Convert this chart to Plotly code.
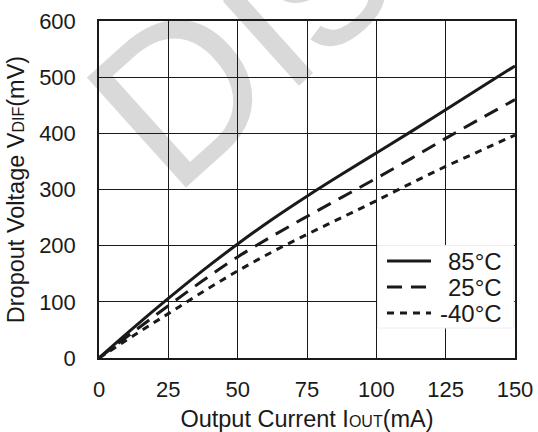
import plotly.graph_objects as go

# Dropout voltage vs. output current at three junction temperatures
current_ma = [0, 12.5, 25, 37.5, 50, 62.5, 75, 87.5, 100, 112.5, 125, 137.5, 150]
vdif_85c = [0, 54, 106, 156, 203, 247, 288, 327, 365, 403, 442, 481, 520]
vdif_25c = [0, 47, 93, 138, 180, 217, 252, 286, 320, 355, 391, 426, 460]
vdif_m40c = [0, 40, 79, 118, 155, 189, 220, 250, 280, 311, 341, 369, 397]

series_names = ["85°C", "25°C", "-40°C"]
series_dash = ["solid", "15px,9px", "7px,6px"]
series_values = [vdif_85c, vdif_25c, vdif_m40c]

x_ticks = [0, 25, 50, 75, 100, 125, 150]
y_ticks = [0, 100, 200, 300, 400, 500, 600]

FONT = "Arial, Liberation Sans, sans-serif"
INK = "#1a1a1a"

fig = go.Figure()
for name, dash, vals in zip(series_names, series_dash, series_values):
    fig.add_trace(go.Scatter(
        x=current_ma, y=vals, mode="lines", name=name,
        line=dict(color=INK, width=3, dash=dash, shape="spline", smoothing=1.0),
        showlegend=False,
    ))

# Geometry of the plotting area (pixels) used for the hand-built legend
W, H = 538, 432
L, R, T, B = 99, 23, 21, 74
pw, ph = W - L - R, H - T - B


def px(xp):
    return (xp - L) / pw


def py(yp):
    return (H - B - yp) / ph


shapes = []
annotations = []

# Faint "Dis" stamp behind the grid
shapes.append(dict(
    type="rect", xref="paper", yref="paper", layer="below",
    x0=px(224), x1=px(226), y0=py(26), y1=py(24),
    line=dict(width=0), fillcolor="rgba(0,0,0,0)",
    label=dict(text="Dis", textangle=-42, textposition="middle center",
               font=dict(family=FONT, size=215, color="#d9d9d9")),
))

# Legend panel
shapes.append(dict(
    type="rect", xref="paper", yref="paper", layer="above",
    x0=px(377.5), x1=px(513.8), y0=py(328), y1=py(245.5),
    line=dict(color="#eeeeee", width=1), fillcolor="white",
))
legend_rows = [261, 287, 313]
for name, dash, yrow in zip(series_names, series_dash, legend_rows):
    shapes.append(dict(
        type="line", xref="paper", yref="paper", layer="above",
        x0=px(387), x1=px(431), y0=py(yrow), y1=py(yrow),
        line=dict(color=INK, width=3, dash=dash),
    ))
    annotations.append(dict(
        xref="paper", yref="paper", x=px(504), y=py(yrow),
        xanchor="right", yanchor="middle", showarrow=False,
        text=name, font=dict(family=FONT, size=24, color=INK),
    ))

fig.update_layout(
    width=W, height=H,
    margin=dict(l=L, r=R, t=T, b=B, pad=0, autoexpand=False),
    paper_bgcolor="white",
    plot_bgcolor="rgba(0,0,0,0)",
    font=dict(family=FONT, size=22, color=INK),
    shapes=shapes,
    annotations=annotations,
    showlegend=False,
)

fig.update_xaxes(
    range=[0, 150], tickvals=x_ticks, ticktext=[str(v) for v in x_ticks],
    showgrid=True, gridcolor=INK, gridwidth=1.3,
    showline=True, mirror=True, linecolor=INK, linewidth=1.5,
    zeroline=False, ticks="", ticklabelstandoff=11, automargin=False,
    tickfont=dict(family=FONT, size=22, color=INK),
    title=dict(text="Output Current I<span style='font-size:16px'>OUT</span>(mA)",
               font=dict(family=FONT, size=23.5, color=INK), standoff=9),
)
fig.update_yaxes(
    range=[0, 600], tickvals=y_ticks, ticktext=[str(v) for v in y_ticks],
    showgrid=True, gridcolor=INK, gridwidth=1.3,
    showline=True, mirror=True, linecolor=INK, linewidth=1.5,
    zeroline=False, ticks="", ticklabelstandoff=17, automargin=False,
    tickfont=dict(family=FONT, size=22, color=INK),
    title=dict(text="Dropout Voltage V<span style='font-size:16px'>DIF</span>(mV)",
               font=dict(family=FONT, size=23.5, color=INK), standoff=8),
)

fig.write_html("out.html")
